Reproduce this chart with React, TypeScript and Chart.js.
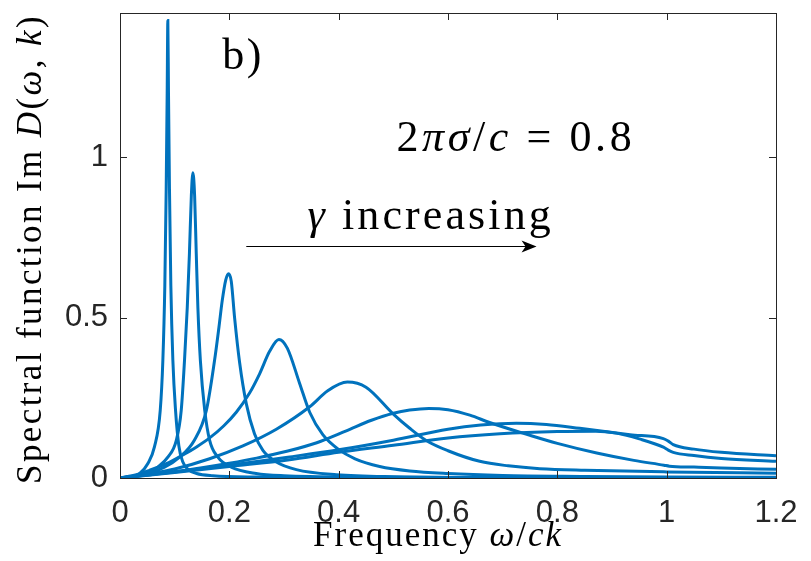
import { useEffect, useRef } from 'react';
import { Chart, registerables } from 'chart.js';

Chart.register(...registerables);

const xTicks = [0, 0.2, 0.4, 0.6, 0.8, 1, 1.2];
const yTicks = [0, 0.5, 1];

// spectral curves, gamma increasing from 1 to 8
const gamma1 = [
  [0, 0], [0.02, 0.004], [0.036, 0.014], [0.051, 0.045], [0.063, 0.097], [0.0736, 0.211],
  [0.0784, 0.367], [0.082, 0.6], [0.0845, 0.9], [0.0863, 1.2], [0.0875, 1.427], [0.0887, 1.2],
  [0.0905, 0.9], [0.093, 0.6], [0.0967, 0.367], [0.1016, 0.211], [0.1077, 0.1], [0.115, 0.05],
  [0.125, 0.026], [0.14, 0.014], [0.17, 0.007], [0.25, 0.003], [0.5, 0.001], [1.2, 0],
];
const gamma2 = [
  [0, 0], [0.03, 0.006], [0.05, 0.014], [0.069, 0.034], [0.0875, 0.065], [0.103, 0.1175],
  [0.112, 0.211], [0.118, 0.367], [0.123, 0.53], [0.127, 0.7], [0.1305, 0.88], [0.1333, 0.952],
  [0.1365, 0.88], [0.1395, 0.7], [0.1425, 0.53], [0.147, 0.367], [0.155, 0.211], [0.164, 0.1175],
  [0.179, 0.065], [0.2035, 0.034], [0.249, 0.014], [0.3, 0.007], [0.45, 0.003], [0.7, 0.001], [1.2, 0],
];
const gamma3 = [
  [0, 0], [0.04, 0.01], [0.0815, 0.034], [0.109, 0.065], [0.136, 0.118], [0.158, 0.211],
  [0.173, 0.367], [0.181, 0.47], [0.187, 0.553], [0.1935, 0.618], [0.1985, 0.637], [0.2035, 0.614],
  [0.2096, 0.5], [0.2188, 0.36], [0.231, 0.232], [0.246, 0.138], [0.2614, 0.086], [0.286, 0.05],
  [0.3226, 0.026], [0.396, 0.01], [0.5, 0.004], [0.8, 0.001], [1.2, 0],
];
const gamma4 = [
  [0, 0], [0.03, 0.01], [0.054, 0.024], [0.085, 0.045], [0.115, 0.072], [0.14, 0.097],
  [0.164, 0.125], [0.19, 0.163], [0.2127, 0.205], [0.237, 0.265], [0.2554, 0.325], [0.2737, 0.395],
  [0.2907, 0.432], [0.306, 0.405], [0.3286, 0.295], [0.347, 0.205], [0.371, 0.135], [0.399, 0.09],
  [0.43, 0.06], [0.475, 0.036], [0.53, 0.022], [0.6, 0.014], [0.7, 0.008], [0.85, 0.005],
  [1, 0.003], [1.2, 0.002],
];
const gamma5 = [
  [0, 0], [0.05, 0.012], [0.1, 0.028], [0.164, 0.06], [0.2248, 0.1], [0.286, 0.152],
  [0.347, 0.222], [0.38, 0.272], [0.416, 0.299], [0.45, 0.283], [0.4995, 0.2], [0.53, 0.155],
  [0.56, 0.117], [0.6, 0.085], [0.658, 0.052], [0.71, 0.038], [0.768, 0.029], [0.85, 0.024],
  [1, 0.019], [1.2, 0.015],
];
const gamma6 = [
  [0, 0], [0.05, 0.009], [0.1, 0.02], [0.15, 0.032], [0.2, 0.046], [0.25, 0.062], [0.307, 0.084],
  [0.36, 0.11], [0.414, 0.147], [0.46, 0.18], [0.5, 0.202], [0.53, 0.212], [0.565, 0.217],
  [0.6, 0.213], [0.64, 0.196], [0.676, 0.173], [0.75, 0.133], [0.8, 0.108], [0.872, 0.078],
  [0.94, 0.055], [0.995, 0.04], [1.005, 0.037], [1.05, 0.034], [1.1, 0.031], [1.2, 0.027],
];
const gamma7 = [
  [0, 0], [0.1, 0.019], [0.2, 0.04], [0.307, 0.065], [0.4, 0.088], [0.5, 0.118], [0.6, 0.152],
  [0.66, 0.165], [0.725, 0.171], [0.78, 0.167], [0.841, 0.155], [0.933, 0.135], [0.994, 0.123],
  [1.003, 0.115], [1.012, 0.104], [1.05, 0.09], [1.1, 0.08], [1.2, 0.069],
];
const gamma8 = [
  [0, 0], [0.1, 0.017], [0.2, 0.036], [0.307, 0.056], [0.4, 0.08], [0.5, 0.102], [0.6, 0.125],
  [0.695, 0.138], [0.8, 0.145], [0.87, 0.146], [0.908, 0.14], [0.95, 0.122], [0.994, 0.096],
  [1.003, 0.087], [1.012, 0.08], [1.05, 0.07], [1.1, 0.061], [1.2, 0.052],
];

const curves = [gamma1, gamma2, gamma3, gamma4, gamma5, gamma6, gamma7, gamma8];

type Run = [string, boolean];

const serif = '"Liberation Serif", "Times New Roman", serif';
const sans = '"Liberation Sans", Arial, sans-serif';

function drawRuns(ctx: any, runs: Run[], x: number, y: number, size: number, spacing: number, center: boolean) {
  ctx.letterSpacing = `${spacing}px`;
  let total = 0;
  for (const [t, it] of runs) {
    ctx.font = `${it ? 'italic ' : ''}${size}px ${serif}`;
    total += ctx.measureText(t).width;
  }
  let cx = center ? x - total / 2 : x;
  ctx.textAlign = 'left';
  ctx.textBaseline = 'alphabetic';
  for (const [t, it] of runs) {
    ctx.font = `${it ? 'italic ' : ''}${size}px ${serif}`;
    ctx.fillText(t, cx, y);
    cx += ctx.measureText(t).width;
  }
  ctx.letterSpacing = '0px';
}

const framePlugin = {
  id: 'frame',
  afterDraw(chart: any) {
    const { ctx, chartArea: a, scales } = chart;
    const sx = scales.x;
    const sy = scales.y;
    ctx.save();

    // box and inward ticks
    ctx.strokeStyle = '#262626';
    ctx.lineWidth = 1;
    ctx.strokeRect(a.left + 0.5, a.top + 0.5, a.width, a.height);
    ctx.beginPath();
    for (const v of xTicks) {
      const px = Math.round(sx.getPixelForValue(v)) + 0.5;
      ctx.moveTo(px, a.bottom);
      ctx.lineTo(px, a.bottom - 7);
      ctx.moveTo(px, a.top);
      ctx.lineTo(px, a.top + 7);
    }
    for (const v of yTicks) {
      const py = Math.round(sy.getPixelForValue(v)) + 0.5;
      ctx.moveTo(a.left, py);
      ctx.lineTo(a.left + 7, py);
      ctx.moveTo(a.right, py);
      ctx.lineTo(a.right - 7, py);
    }
    ctx.stroke();

    // axis titles
    ctx.fillStyle = '#000';
    drawRuns(ctx, [['Frequency ', false], ['ω', true], ['/', false], ['ck', true]], 438, 546, 35, 2, true);
    ctx.save();
    ctx.translate(41, 249);
    ctx.rotate(-Math.PI / 2);
    drawRuns(
      ctx,
      [['Spectral function Im ', false], ['D', true], ['(', false], ['ω', true], [', ', false], ['k', true], [')', false]],
      0, 0, 35, 2.4, true,
    );
    ctx.restore();

    // annotations
    drawRuns(ctx, [['b)', false]], sx.getPixelForValue(0.187), sy.getPixelForValue(1.276), 44, 2.5, false);
    drawRuns(
      ctx,
      [['2', false], ['πσ', true], ['/', false], ['c', true], [' = 0.8', false]],
      sx.getPixelForValue(0.5056), sy.getPixelForValue(1.021), 44, 3.6, false,
    );
    drawRuns(ctx, [['γ', true], [' increasing', false]], sx.getPixelForValue(0.343), sy.getPixelForValue(0.778), 44, 3.1, false);

    // arrow
    const ay = Math.round(sy.getPixelForValue(0.725)) + 0.5;
    const ax0 = sx.getPixelForValue(0.231);
    const ax1 = sx.getPixelForValue(0.762);
    ctx.strokeStyle = '#000';
    ctx.lineWidth = 1.2;
    ctx.beginPath();
    ctx.moveTo(ax0, ay);
    ctx.lineTo(ax1 - 10, ay);
    ctx.stroke();
    ctx.fillStyle = '#000';
    ctx.beginPath();
    ctx.moveTo(ax1, ay);
    ctx.lineTo(ax1 - 15, ay - 6);
    ctx.lineTo(ax1 - 11, ay);
    ctx.lineTo(ax1 - 15, ay + 6);
    ctx.closePath();
    ctx.fill();

    ctx.restore();
  },
};

export default function App() {
  const canvasRef = useRef<HTMLCanvasElement>(null);

  useEffect(() => {
    if (!canvasRef.current) return;

    const chart = new Chart(canvasRef.current, {
      type: 'scatter',
      data: {
        datasets: curves.map((c) => ({
          data: c.map(([x, y]) => ({ x, y })),
          showLine: true,
          borderColor: '#0072BD',
          borderWidth: 3,
          pointRadius: 0,
          cubicInterpolationMode: 'monotone',
          fill: false,
        })),
      },
      options: {
        animation: false,
        responsive: true,
        maintainAspectRatio: false,
        events: [],
        layout: { padding: { top: 13, right: 35, left: 0, bottom: 0 } },
        plugins: { legend: { display: false }, tooltip: { enabled: false } },
        scales: {
          x: {
            type: 'linear',
            min: 0,
            max: 1.2,
            grid: { display: false, drawTicks: false },
            border: { display: false },
            afterBuildTicks: (s: any) => {
              s.ticks = xTicks.map((v) => ({ value: v }));
            },
            afterFit: (s: any) => {
              s.height = 83;
              s.paddingLeft = 0;
              s.paddingRight = 0;
            },
            ticks: {
              font: { family: sans, size: 31 },
              color: '#262626',
              padding: 17,
              maxRotation: 0,
              autoSkip: false,
              callback: (v: any) => String(v),
            },
          },
          y: {
            type: 'linear',
            min: 0,
            max: 1.45,
            grid: { display: false, drawTicks: false },
            border: { display: false },
            afterBuildTicks: (s: any) => {
              s.ticks = yTicks.map((v) => ({ value: v }));
            },
            afterFit: (s: any) => {
              s.width = 120;
              s.paddingTop = 0;
              s.paddingBottom = 0;
            },
            ticks: {
              font: { family: sans, size: 31 },
              color: '#262626',
              padding: 12,
              autoSkip: false,
              callback: (v: any) => String(v),
            },
          },
        },
      },
      plugins: [framePlugin],
    });

    return () => chart.destroy();
  }, []);

  return (
    <div style={{ position: 'absolute', left: 0, top: 0, width: 811, height: 561, background: '#fff' }}>
      <canvas ref={canvasRef}></canvas>
    </div>
  );
}
